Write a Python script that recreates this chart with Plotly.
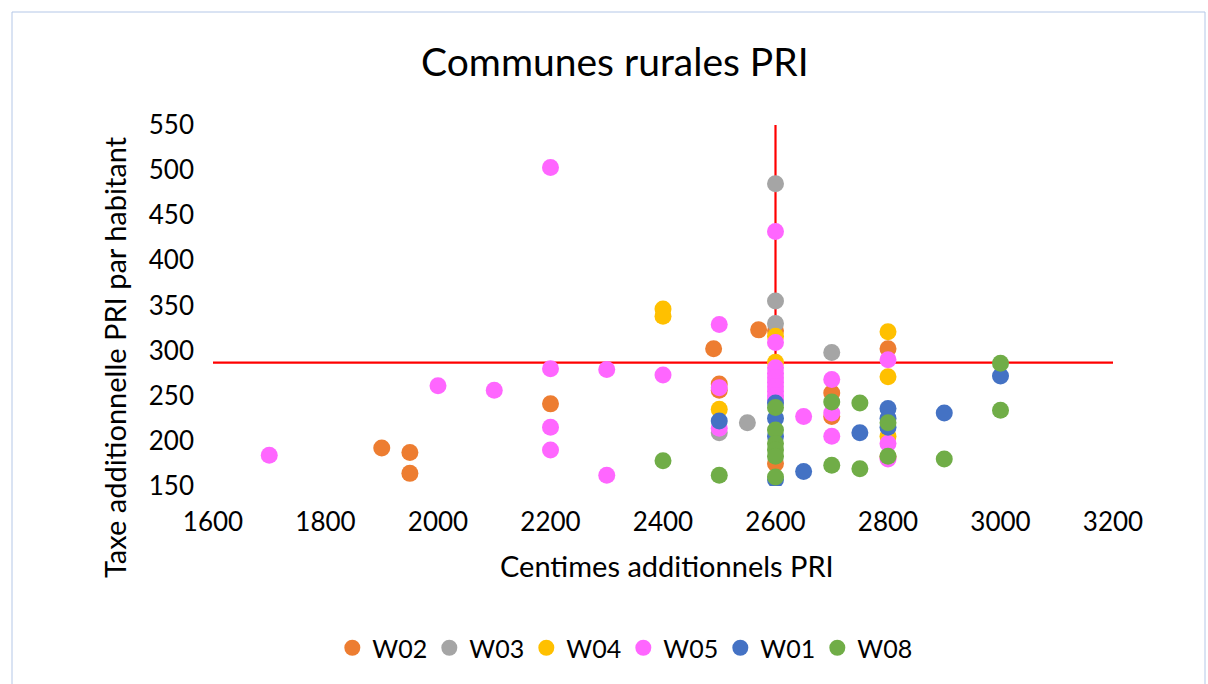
import plotly.graph_objects as go

# ---- data ----
series_names = ["W02", "W03", "W04", "W05", "W01", "W08"]
series_colors = ["#ED7D31", "#A5A5A5", "#FFC000", "#FF66FF", "#4472C4", "#70AD47"]

w02_x = [1900, 1950, 1950, 2200, 2490, 2500, 2500, 2570, 2600, 2600, 2700, 2700, 2800, 2800]
w02_y = [192, 187, 164, 241, 302, 263, 256, 323, 322, 175, 253, 227, 302, 182]

w03_x = [2500, 2550, 2600, 2600, 2600, 2700]
w03_y = [209, 220, 485, 355, 330, 298]

w04_x = [2400, 2400, 2500, 2600, 2600, 2800, 2800, 2800]
w04_y = [346, 338, 235, 316, 287, 321, 271, 205]

w05_x = [1700, 2000, 2100, 2200, 2200, 2200, 2200, 2300, 2300, 2400, 2500, 2500, 2500,
         2600, 2600, 2600, 2600, 2600, 2600, 2600, 2600, 2600, 2600, 2650, 2700, 2700, 2700,
         2800, 2800, 2800]
w05_y = [184, 261, 256, 503, 280, 215, 190, 279, 162, 273, 329, 259, 214,
         432, 309, 281, 275, 270, 265, 260, 255, 250, 246, 227, 268, 231, 205,
         290, 197, 180]

w01_x = [2500, 2600, 2600, 2600, 2600, 2650, 2750, 2800, 2800, 2800, 2900, 3000]
w01_y = [222, 242, 225, 205, 157, 166, 209, 236, 225, 215, 231, 272]

w08_x = [2400, 2500, 2600, 2600, 2600, 2600, 2600, 2600, 2700, 2700, 2750, 2750, 2800, 2800,
         2900, 3000, 3000]
w08_y = [178, 162, 237, 212, 197, 190, 183, 160, 243, 173, 242, 169, 220, 183,
         180, 286, 234]

# reference lines (mean tax, median centimes)
hline_x = [1600, 3200]
hline_y = [286.6, 286.6]
vline_x = [2600, 2600]
vline_y = [150, 550]

x_ticks = [1600, 1800, 2000, 2200, 2400, 2600, 2800, 3000, 3200]
y_ticks = [150, 200, 250, 300, 350, 400, 450, 500, 550]

series_x = [w02_x, w03_x, w04_x, w05_x, w01_x, w08_x]
series_y = [w02_y, w03_y, w04_y, w05_y, w01_y, w08_y]

FONT = "Lato, 'Open Sans', sans-serif"
W, H = 1208, 684
ML, MR, MT, MB = 213, 95, 125, 198
PW, PH = W - ML - MR, H - MT - MB

fig = go.Figure()
fig.add_trace(go.Scatter(x=hline_x, y=hline_y, mode="lines",
                         line=dict(color="#FF0000", width=2.2),
                         showlegend=False, hoverinfo="skip"))
fig.add_trace(go.Scatter(x=vline_x, y=vline_y, mode="lines",
                         line=dict(color="#FF0000", width=2.2),
                         showlegend=False, hoverinfo="skip"))

for name, color, xs, ys in zip(series_names, series_colors, series_x, series_y):
    fig.add_trace(go.Scatter(x=xs, y=ys, mode="markers", name=name,
                             marker=dict(color=color, size=17, line=dict(width=0))))

fig.update_layout(
    width=W, height=H,
    paper_bgcolor="white", plot_bgcolor="white",
    margin=dict(l=ML, r=MR, t=MT, b=MB),
    font=dict(family=FONT, color="#000000"),
    title=dict(text="Communes rurales PRI", x=0.509, xanchor="center",
               y=1 - 62 / H, yanchor="middle",
               font=dict(size=39, family=FONT, color="#000000")),
    xaxis=dict(range=[1600, 3200], tickvals=x_ticks, showgrid=False, zeroline=False,
               showline=False, ticks="", tickfont=dict(size=26, family=FONT, color="#000000"),
               ticklabelstandoff=18),
    yaxis=dict(range=[150, 550], tickvals=y_ticks, showgrid=False, zeroline=False,
               showline=False, ticks="", tickfont=dict(size=26, family=FONT, color="#000000"),
               ticklabelstandoff=18),
    legend=dict(orientation="h", xref="container", yref="container",
                x=0.516, xanchor="center", y=1 - 648 / H, yanchor="middle",
                font=dict(size=25, family=FONT, color="#000000"),
                itemsizing="trace", entrywidth=52, entrywidthmode="pixels",
                bgcolor="rgba(0,0,0,0)"),
    annotations=[
        dict(text="Centimes additionnels PRI", xref="paper", yref="paper",
             x=(667 - ML) / PW, y=(H - MB - 565) / PH, xanchor="center", yanchor="middle",
             showarrow=False, font=dict(size=29, family=FONT, color="#000000")),
        dict(text="Taxe additionnelle PRI par habitant", xref="paper", yref="paper",
             x=(114 - ML) / PW, y=(H - MB - 357) / PH, xanchor="center", yanchor="middle",
             textangle=-90, showarrow=False,
             font=dict(size=29, family=FONT, color="#000000")),
    ],
    shapes=[dict(type="rect", xref="paper", yref="paper",
                 x0=(12 - ML) / PW, x1=(1205 - ML) / PW,
                 y0=(H - MB - 700) / PH, y1=1 + (MT - 12) / PH,
                 line=dict(color="#B4C7E7", width=1), fillcolor="rgba(0,0,0,0)",
                 layer="below")],
    showlegend=True,
)

fig.write_html("out.html", config={"displayModeBar": False},
               post_script="document.body.style.margin='0';")
